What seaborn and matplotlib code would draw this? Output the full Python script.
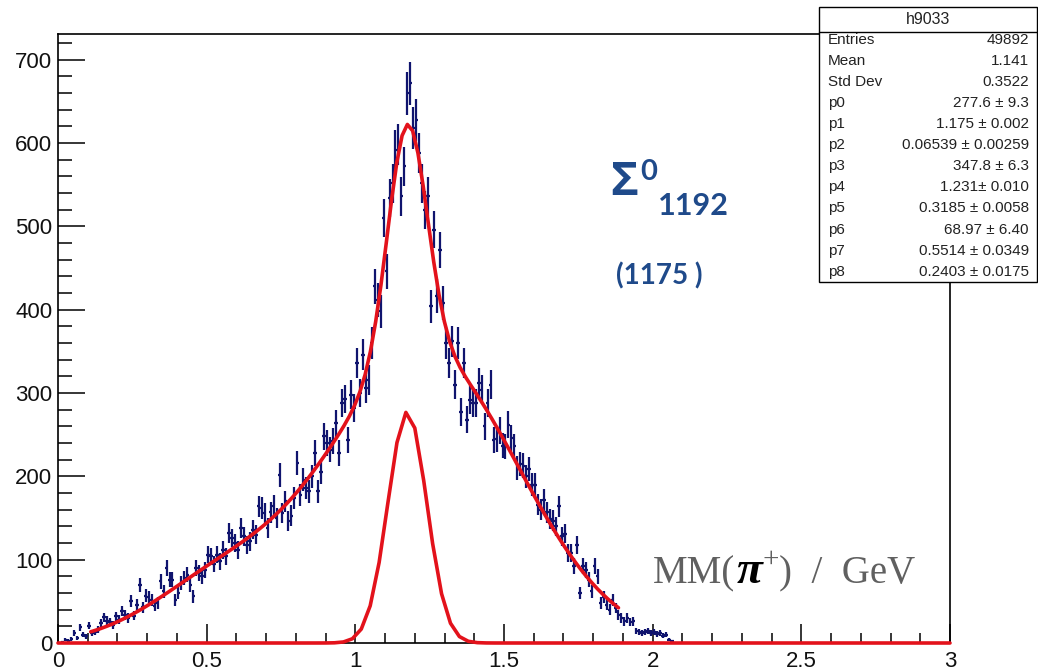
import numpy as np
import matplotlib
matplotlib.use("Agg")
import matplotlib.pyplot as plt
import seaborn as sns
from matplotlib.ticker import MultipleLocator, FixedLocator
from matplotlib.patches import Rectangle
from matplotlib.lines import Line2D

# ---------------- data ----------------
bin_lo = 0.0
bin_width = 0.01
counts = [
    0, 1, 4, 3, 5, 12, 6, 19, 10, 8,                      # 0.0 - 0.1
    21, 12, 13, 16, 24, 31, 27, 25, 22, 32,               # 0.1
    28, 38, 34, 30, 50, 33, 46, 70, 43, 57,               # 0.2
    55, 52, 45, 48, 74, 62, 90, 76, 76, 52,               # 0.3
    60, 72, 78, 82, 70, 56, 90, 84, 80, 88,               # 0.4
    106, 104, 95, 106, 98, 112, 104, 132, 126, 120,       # 0.5
    112, 138, 128, 118, 122, 136, 130, 164, 162, 156,     # 0.6
    138, 157, 165, 150, 202, 156, 170, 146, 153, 174,     # 0.7
    216, 178, 196, 186, 182, 200, 228, 182, 205, 248,     # 0.8
    240, 232, 242, 264, 228, 288, 293, 244, 298, 282,     # 0.9
    336, 300, 346, 306, 316, 360, 428, 412, 398, 510,     # 1.0
    446, 534, 552, 592, 598, 536, 572, 660, 672, 618,     # 1.1
    628, 588, 552, 520, 536, 404, 496, 416, 472, 408,     # 1.2
    360, 336, 362, 310, 360, 277, 336, 268, 292, 288,     # 1.3
    288, 312, 304, 260, 288, 310, 244, 245, 255, 237,     # 1.4
    236, 262, 246, 236, 210, 215, 213, 200, 209, 190,     # 1.5
    190, 166, 160, 172, 157, 149, 147, 140, 164, 128,     # 1.6
    131, 108, 108, 92, 118, 60, 92, 88, 76, 62,           # 1.7
    92, 80, 48, 55, 46, 40, 52, 42, 34, 30,               # 1.8
    26, 30, 25, 26, 14, 13, 12, 13, 14, 12,               # 1.9
    13, 11, 12, 9, 10, 4, 2, 0,                           # 2.0
]

# fit parameters as printed in the stats box (gaus + gaus + gaus)
fit_params = [277.6, 1.175, 0.06539, 347.8, 1.231, 0.3185, 68.97, 0.5514, 0.2403]
fit_range = [0.11, 1.885]

stats_title = "h9033"
stats_labels = ["Entries", "Mean", "Std Dev", "p0", "p1", "p2", "p3", "p4",
                "p5", "p6", "p7", "p8"]
stats_values = ["49892", "1.141", "0.3522", "277.6 \u00b1 9.3", "1.175 \u00b1 0.002",
                "0.06539 \u00b1 0.00259", "347.8 \u00b1 6.3", "1.231\u00b1 0.010",
                "0.3185 \u00b1 0.0058", "68.97 \u00b1 6.40", "0.5514 \u00b1 0.0349",
                "0.2403 \u00b1 0.0175"]

x_ticks = [0, 0.5, 1, 1.5, 2, 2.5, 3]
x_tick_labels = ["0", "0.5", "1", "1.5", "2", "2.5", "3"]
y_ticks = [0, 100, 200, 300, 400, 500, 600, 700]
y_tick_labels = ["0", "100", "200", "300", "400", "500", "600", "700"]

# ---------------- style ----------------
sns.set_theme(style="ticks")
plt.rcParams["font.family"] = ["Liberation Sans", "DejaVu Sans"]

W, H = 1038, 672
def fx(px):
    return px / W
def fy(py):
    return 1 - py / H

fig = plt.figure(figsize=(W / 100, H / 100), dpi=100)
fig.patch.set_facecolor("white")
ax = fig.add_axes([fx(58), fy(643), (950 - 58) / W, (643 - 34) / H])
ax.set_facecolor("white")

counts_arr = np.array(counts, dtype=float)
centers = bin_lo + bin_width * (np.arange(len(counts_arr)) + 0.5)
mask = counts_arr > 0

ax.errorbar(centers[mask], counts_arr[mask], xerr=bin_width / 2 * 1.2,
            yerr=np.sqrt(counts_arr[mask]), fmt="none", ecolor="#10146e",
            elinewidth=1.6, capsize=0, zorder=3)

def gauss(x, a, m, s):
    return a * np.exp(-0.5 * ((x - m) / s) ** 2)

x_sig = np.linspace(0, 3, 101)
y_sig = gauss(x_sig, *fit_params[0:3])
x_tot = np.linspace(fit_range[0], fit_range[1], 101)
y_tot = (gauss(x_tot, *fit_params[0:3]) + gauss(x_tot, *fit_params[3:6])
         + gauss(x_tot, *fit_params[6:9]))

red = "#e3121b"
sns.lineplot(x=x_sig, y=y_sig, ax=ax, color=red, linewidth=2.6,
             estimator=None, sort=False, zorder=4, clip_on=False)
sns.lineplot(x=x_tot, y=y_tot, ax=ax, color=red, linewidth=2.6,
             estimator=None, sort=False, zorder=5)

ax.set_xlim(0, 3)
ax.set_ylim(0, 731)
ax.set_xlabel("")
ax.set_ylabel("")

ax.xaxis.set_major_locator(FixedLocator(x_ticks))
ax.set_xticklabels(x_tick_labels)
ax.xaxis.set_minor_locator(MultipleLocator(0.1))
ax.yaxis.set_major_locator(FixedLocator(y_ticks))
ax.set_yticklabels(y_tick_labels)
ax.yaxis.set_minor_locator(MultipleLocator(20))

ax.tick_params(axis="both", which="both", direction="in", color="black",
               width=1.1, labelsize=16, labelcolor="#111111",
               top=False, right=False)
ax.tick_params(axis="x", which="major", length=14, pad=6)
ax.tick_params(axis="x", which="minor", length=7)
ax.tick_params(axis="y", which="major", length=19.5, pad=4)
ax.tick_params(axis="y", which="minor", length=10)
for sp in ax.spines.values():
    sp.set_color("black")
    sp.set_linewidth(1.2)

# ---------------- stats box ----------------
bx0, bx1, by0, by1 = 819, 1037, 7, 282
fig.add_artist(Rectangle((fx(bx0), fy(by1)), (bx1 - bx0) / W, (by1 - by0) / H,
                         transform=fig.transFigure, facecolor="white",
                         edgecolor="black", linewidth=1.0, zorder=10))
fig.add_artist(Line2D([fx(bx0), fx(bx1)], [fy(32), fy(32)],
                      transform=fig.transFigure, color="black",
                      linewidth=1.0, zorder=11))
fig.text(fx((bx0 + bx1) / 2), fy(20), stats_title, ha="center", va="center",
         fontsize=11.5, color="#222222", zorder=12)
for i, (lab, val) in enumerate(zip(stats_labels, stats_values)):
    yy = 40 + i * 21.06
    fig.text(fx(828), fy(yy), lab, ha="left", va="center", fontsize=11,
             color="#222222", zorder=12)
    fig.text(fx(1029), fy(yy), val, ha="right", va="center", fontsize=11,
             color="#222222", zorder=12)

# ---------------- annotations ----------------
blue = "#1f4a8a"
fig.text(fx(610), fy(195), "\u03a3", ha="left", va="baseline", fontsize=34,
         fontweight="bold", color=blue, family=["Open Sans", "DejaVu Sans"])
fig.text(fx(640), fy(180), "0", ha="left", va="baseline", fontsize=21,
         fontweight="bold", color=blue, family=["Lato", "DejaVu Sans"])
fig.text(fx(658), fy(215), "1192", ha="left", va="baseline", fontsize=22,
         fontweight="bold", color=blue, family=["Lato", "DejaVu Sans"])
fig.text(fx(616), fy(284), "(1175 )", ha="left", va="baseline", fontsize=20,
         fontweight="bold", color=blue, family=["Lato", "DejaVu Sans"])

# MM(pi+) / GeV label, built piece by piece
fig.canvas.draw()
renderer = fig.canvas.get_renderer()
gray = "#606060"
serif = ["Liberation Serif", "DejaVu Serif"]
pieces = [
    ("MM(", dict(fontsize=28, color=gray, family=serif), 583, 0),
    ("\u03c0", dict(fontsize=34, color="black", family=serif,
                    fontweight="bold", fontstyle="italic"), 583, 1),
    ("+", dict(fontsize=21, color=gray, family=serif), 567, 0),
    (")  /  GeV", dict(fontsize=28, color=gray, family=serif), 583, 1),
]
xcur = 653
for s, kw, yb, gap in pieces:
    t = fig.text(fx(xcur + gap), fy(yb), s, ha="left", va="baseline",
                 zorder=12, **kw)
    bb = t.get_window_extent(renderer)
    xcur = bb.x1

fig.savefig("out.png", dpi=100, facecolor="white")
